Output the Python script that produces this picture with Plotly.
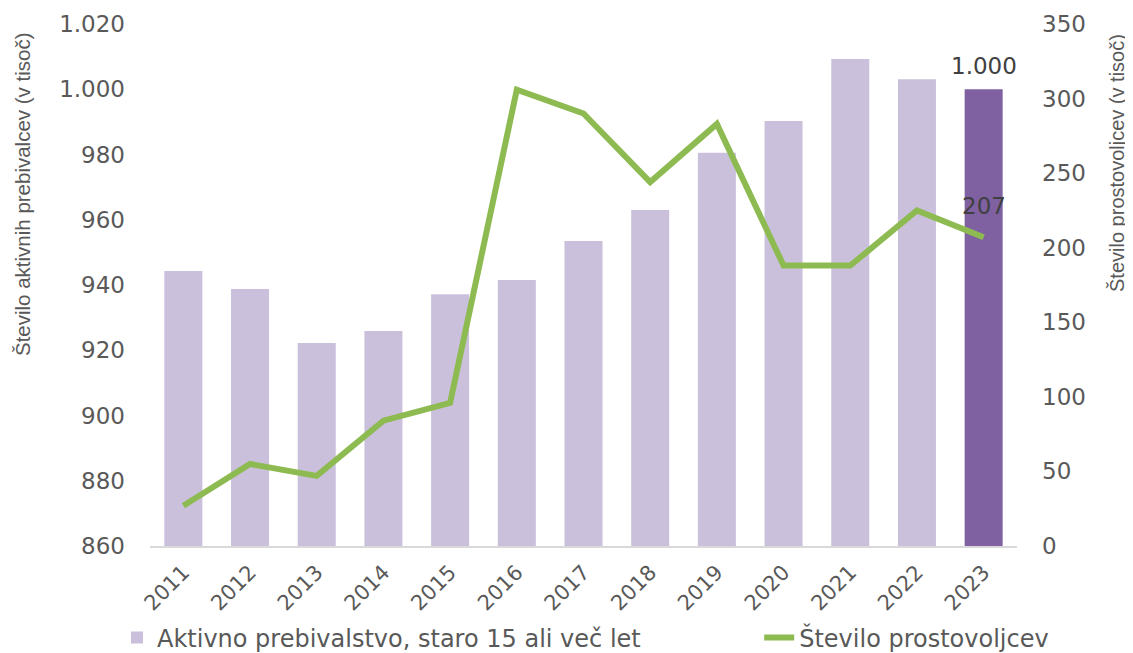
import plotly.graph_objects as go

years = ["2011", "2012", "2013", "2014", "2015", "2016", "2017", "2018", "2019", "2020", "2021", "2022", "2023"]
active_pop = [944.3, 938.8, 922.2, 925.9, 937.2, 941.5, 953.5, 963.0, 980.5, 990.3, 1009.3, 1003.1, 1000.0]
volunteers = [27, 55, 47, 84, 96, 306, 290, 244, 283, 188, 188, 225, 207]

bar_name = "Aktivno prebivalstvo, staro 15 ali več let"
line_name = "Število prostovoljcev"
left_title = "Število aktivnih prebivalcev (v tisoč)"
right_title = "Število prostovoljcev (v tisoč)"
bar_label = "1.000"
line_label = "207"
left_ticks = [860, 880, 900, 920, 940, 960, 980, 1000, 1020]
left_ticktext = ["860", "880", "900", "920", "940", "960", "980", "1.000", "1.020"]
right_ticks = [0, 50, 100, 150, 200, 250, 300, 350]

light = "#CBC0DB"
dark = "#7F60A0"
green = "#8DBB52"
txt = "#595959"

bar_colors = [light] * (len(years) - 1) + [dark]
last = len(years) - 1

wide = "DejaVu Sans, Liberation Sans, sans-serif"
plain = "Liberation Sans, Arial, sans-serif"

fig = go.Figure()
fig.add_trace(go.Bar(
    x=years, y=active_pop, name=bar_name,
    marker=dict(color=bar_colors, line=dict(width=0)),
    yaxis="y", legend="legend",
))
fig.add_trace(go.Scatter(
    x=years, y=volunteers, name=line_name, mode="lines",
    line=dict(color=green, width=6),
    yaxis="y2", legend="legend2",
))

fig.add_annotation(x=last, y=active_pop[-1], yref="y", text=bar_label,
                   showarrow=False, yshift=23, font=dict(size=23, color="#404040", family=wide))
fig.add_annotation(x=last, y=volunteers[-1], yref="y2", text=line_label,
                   showarrow=False, yshift=31, font=dict(size=23, color="#404040", family=wide))

# axis titles
fig.add_annotation(x=-0.1476, y=0.6743, xref="paper", yref="paper", text=left_title,
                   textangle=-90, showarrow=False, xanchor="center", yanchor="middle",
                   font=dict(size=20.5, color=txt, family=plain))
fig.add_annotation(x=1.1153, y=0.7337, xref="paper", yref="paper", text=right_title,
                   textangle=-90, showarrow=False, xanchor="center", yanchor="middle",
                   font=dict(size=20, color=txt, family=plain))

fig.update_layout(
    width=1133, height=653,
    margin=dict(l=142, r=124, t=16, b=115, autoexpand=False),
    paper_bgcolor="white", plot_bgcolor="white",
    font=dict(family=wide, color=txt, size=23),
    bargap=0.43,
    showlegend=True,
    legend=dict(orientation="h", x=0.0962, xref="container", y=0.0354, yref="container",
                xanchor="left", yanchor="middle",
                font=dict(size=24, color=txt, family=wide), bgcolor="rgba(0,0,0,0)"),
    legend2=dict(orientation="h", x=0.663, xref="container", y=0.0354, yref="container",
                 xanchor="left", yanchor="middle",
                 font=dict(size=24, color=txt, family=wide), bgcolor="rgba(0,0,0,0)"),
    xaxis=dict(
        type="category", range=[-0.5, last + 0.5], tickangle=-45,
        tickfont=dict(size=21, color=txt, family=wide),
        showline=True, linecolor="#D9D9D9", linewidth=1.5, ticks="", showgrid=False,
        ticklabelstandoff=4,
    ),
    yaxis=dict(
        range=[860, 1020], tickvals=left_ticks, ticktext=left_ticktext,
        showgrid=False, zeroline=False, showline=False, ticks="",
        tickfont=dict(size=23, color=txt, family=wide), ticklabelstandoff=24,
    ),
    yaxis2=dict(
        range=[0, 350], tickvals=right_ticks,
        overlaying="y", side="right",
        showgrid=False, zeroline=False, showline=False, ticks="",
        tickfont=dict(size=23, color=txt, family=wide), ticklabelstandoff=24,
    ),
)

fig.write_html("out.html")
